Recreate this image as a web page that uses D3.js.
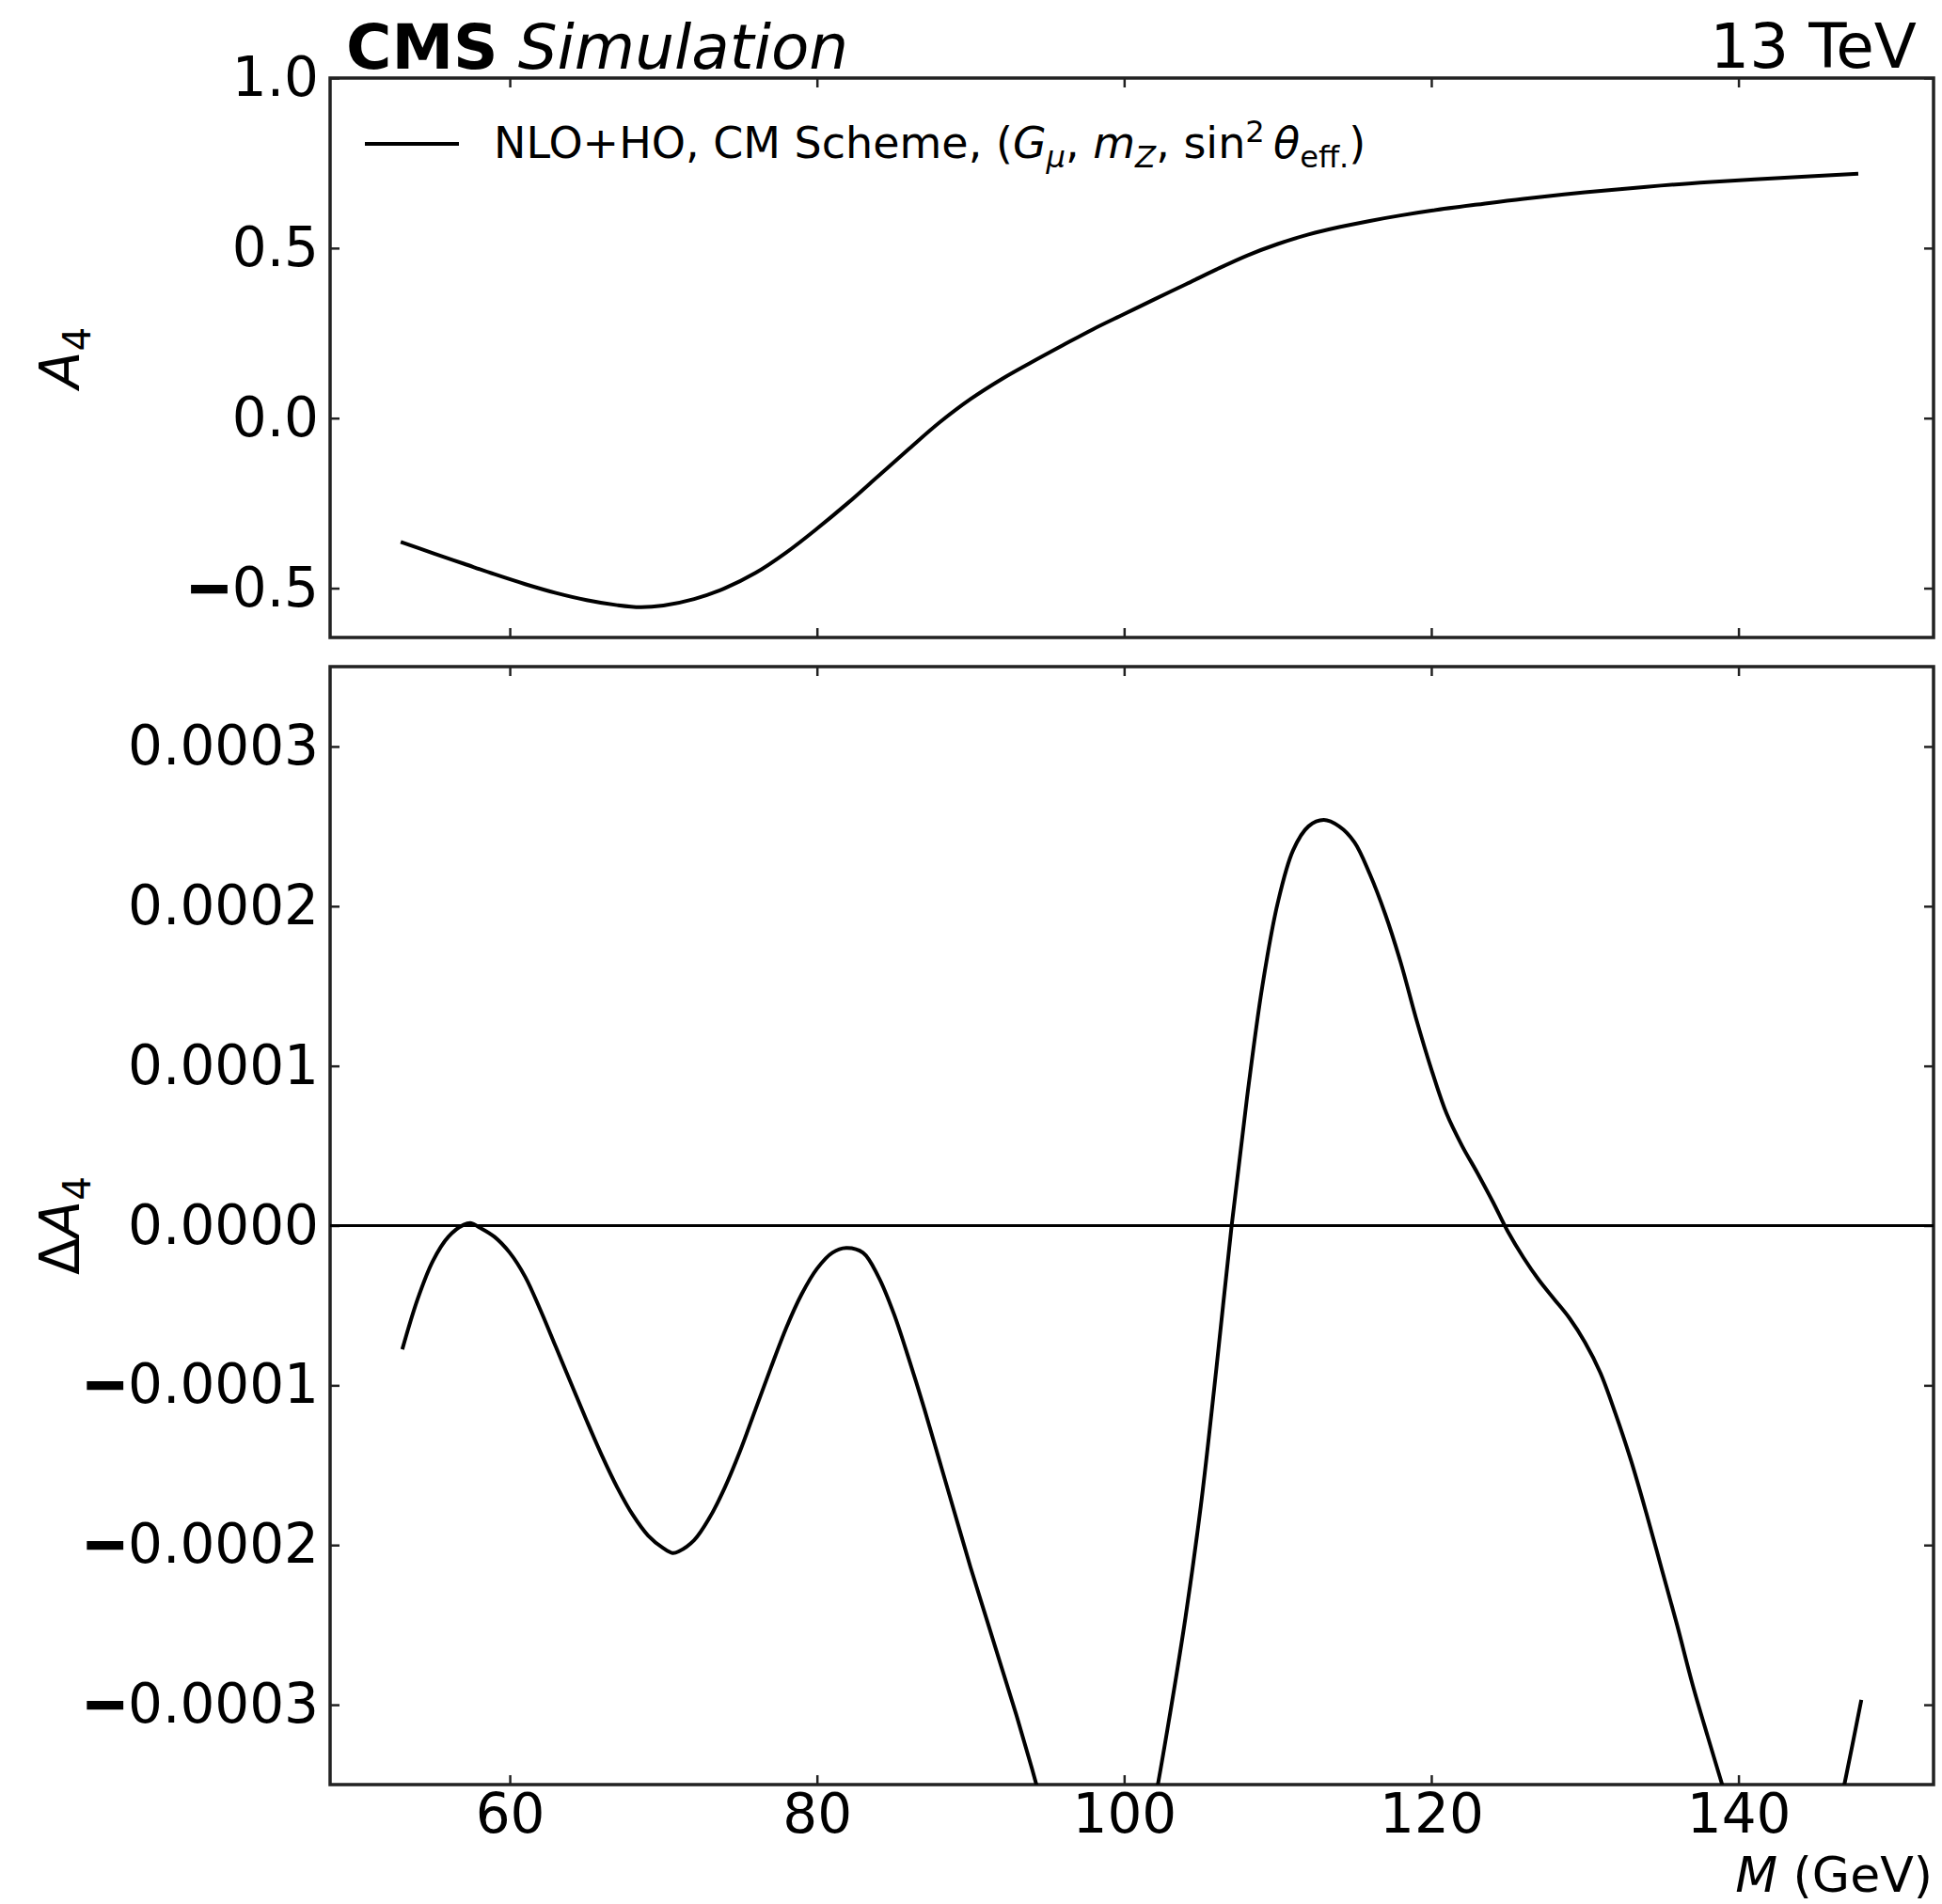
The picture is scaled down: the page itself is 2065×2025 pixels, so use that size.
<!DOCTYPE html>
<html>
<head>
<meta charset="utf-8">
<script src="https://cdn.jsdelivr.net/npm/d3@7"></script>
<style>
  body { margin: 0; background: #fff; }
  text { font-family: "DejaVu Sans", sans-serif; fill: #000; }
  .tick line { stroke: #222; stroke-width: 2.5; }
</style>
</head>
<body>
<div id="chart"></div>
<script>
// values
var massTop = [52.9, 55, 57, 59, 61, 63, 65, 67, 68.5, 70, 72, 74, 76, 78, 80, 82, 84, 86, 88,
  90, 92, 94, 96, 98, 100, 102, 104, 106, 108, 110, 112, 114, 116, 118, 120, 123, 126, 130,
  134, 138, 143, 147.8];
var a4Values = [-0.364, -0.397, -0.428, -0.459, -0.488, -0.514, -0.535, -0.550, -0.556, -0.551,
  -0.532, -0.500, -0.455, -0.395, -0.325, -0.250, -0.170, -0.090, -0.012,
  0.056, 0.114, 0.165, 0.214, 0.262, 0.306, 0.350, 0.393, 0.437, 0.478, 0.512, 0.540, 0.562,
  0.580, 0.596, 0.610, 0.628, 0.645, 0.664, 0.680, 0.694, 0.707, 0.719];

var massBottom = [53, 54, 55, 56, 57, 57.5, 58, 59, 60, 61, 62, 63, 64, 65, 66, 67, 68, 69, 70,
  70.6, 71, 72, 73, 74, 75, 76, 77, 78, 79, 80, 81, 81.9, 83, 84, 85, 86, 87, 88, 89, 90, 91,
  92, 93, 94, 95, 96, 98, 100, 101, 102, 103, 104, 105, 106, 107, 108, 109, 110, 111, 112, 113,
  114, 115, 116, 117, 118, 119, 120, 121, 122, 123, 124, 125, 126, 127, 128, 129, 130, 131, 132,
  133, 134, 135, 136, 137, 138, 139, 140, 141, 142, 143, 144, 145, 146, 147, 148];
var deltaA4 = [-7.75e-5, -4.6e-5, -2.2e-5, -7e-6, 5e-7, 1.5e-6, -1e-6, -7e-6, -1.7e-5, -3.2e-5,
  -5.3e-5, -7.6e-5, -9.9e-5, -1.22e-4, -1.44e-4, -1.64e-4, -1.81e-4, -1.94e-4, -2.02e-4,
  -2.05e-4, -2.04e-4, -1.97e-4, -1.83e-4, -1.64e-4, -1.41e-4, -1.15e-4, -8.9e-5, -6.4e-5,
  -4.3e-5, -2.7e-5, -1.7e-5, -1.4e-5, -1.7e-5, -3.2e-5, -5.5e-5, -8.4e-5, -1.15e-4, -1.48e-4,
  -1.81e-4, -2.14e-4, -2.45e-4, -2.76e-4, -3.07e-4, -3.40e-4, -3.75e-4, -4.1e-4, -4.6e-4,
  -4.5e-4, -4.05e-4, -3.6e-4, -3.05e-4, -2.45e-4, -1.75e-4, -9.0e-5, 0, 8.0e-5, 1.5e-4,
  2.02e-4, 2.35e-4, 2.5e-4, 2.54e-4, 2.5e-4, 2.4e-4, 2.2e-4, 1.95e-4, 1.65e-4, 1.3e-4, 9.8e-5,
  7.0e-5, 5.0e-5, 3.3e-5, 1.5e-5, -4e-6, -2.0e-5, -3.4e-5, -4.6e-5, -5.8e-5, -7.3e-5, -9.2e-5,
  -1.18e-4, -1.47e-4, -1.80e-4, -2.15e-4, -2.50e-4, -2.87e-4, -3.20e-4, -3.52e-4, -3.85e-4,
  -4.15e-4, -4.4e-4, -4.5e-4, -4.45e-4, -4.25e-4, -3.9e-4, -3.45e-4, -2.97e-4];

var xTicks = [60, 80, 100, 120, 140];
var topTicks = [1.0, 0.5, 0.0, -0.5];
var topTickLabels = ["1.0", "0.5", "0.0", "\u22120.5"];
var bottomTicks = [3e-4, 2e-4, 1e-4, 0, -1e-4, -2e-4, -3e-4];
var bottomTickLabels = ["0.0003", "0.0002", "0.0001", "0.0000", "\u22120.0001", "\u22120.0002", "\u22120.0003"];

var W = 2065, H = 2025;
var left = 351, right = 2056;
var top1 = 83, bot1 = 678, top2 = 709, bot2 = 1898;
var fs = 58;

var svg = d3.select("#chart").append("svg")
  .attr("width", W).attr("height", H);
svg.append("rect").attr("width", W).attr("height", H).attr("fill", "#fff");

var x = d3.scaleLinear().domain([48.3, 152.7]).range([left, right]);
var yTop = d3.scaleLinear().domain([-0.645, 1.0]).range([bot1, top1]);
var yBot = d3.scaleLinear().domain([-3.5e-4, 3.5e-4]).range([bot2, top2]);

// clip areas for the two panels
var defs = svg.append("defs");
defs.append("clipPath").attr("id", "clipTop").append("rect")
  .attr("x", left).attr("y", top1).attr("width", right - left).attr("height", bot1 - top1);
defs.append("clipPath").attr("id", "clipBot").append("rect")
  .attr("x", left).attr("y", top2).attr("width", right - left).attr("height", bot2 - top2);

// splits "−0.5" so the minus can be drawn heavier, like the reference
function styleMinus(sel) {
  sel.selectAll(".tick text").each(function() {
    var t = d3.select(this);
    var s = t.text();
    if (s.charAt(0) === "\u2212") {
      t.text("");
      t.append("tspan").attr("font-weight", "bold")
        .attr("stroke", "#000").attr("stroke-width", 2.5).text("\u2212");
      t.append("tspan").text(s.slice(1));
    }
  });
}

function drawPanel(y, yTicks, yLabels, yt, yb, withXLabels) {
  var g = svg.append("g");

  var ax = g.append("g").attr("transform", "translate(" + left + ",0)")
    .call(d3.axisLeft(y).tickValues(yTicks).tickSize(-10).tickPadding(12)
      .tickFormat(function(d, i) { return yLabels[i]; }));
  ax.selectAll("text").attr("font-size", fs).attr("font-family", "DejaVu Sans");
  styleMinus(ax);

  g.append("g").attr("transform", "translate(" + right + ",0)")
    .call(d3.axisRight(y).tickValues(yTicks).tickSize(-10).tickFormat(""));

  g.append("g").attr("transform", "translate(0," + yt + ")")
    .call(d3.axisTop(x).tickValues(xTicks).tickSize(-10).tickFormat(""));

  var bx = g.append("g").attr("transform", "translate(0," + yb + ")")
    .call(d3.axisBottom(x).tickValues(xTicks).tickSize(-10).tickPadding(10)
      .tickFormat(withXLabels ? d3.format("d") : ""));
  bx.selectAll("text").attr("font-size", fs).attr("font-family", "DejaVu Sans");

  g.selectAll(".domain").remove();

  g.append("rect")
    .attr("x", left).attr("y", yt)
    .attr("width", right - left).attr("height", yb - yt)
    .attr("fill", "none").attr("stroke", "#222").attr("stroke-width", 3.5);
  return g;
}

drawPanel(yTop, topTicks, topTickLabels, top1, bot1, false);
drawPanel(yBot, bottomTicks, bottomTickLabels, top2, bot2, true);

var curve = d3.curveCatmullRom.alpha(0.5);

// top panel curve
var lineTop = d3.line()
  .x(function(d, i) { return x(massTop[i]); })
  .y(function(d) { return yTop(d); })
  .curve(curve);
svg.append("path").datum(a4Values)
  .attr("clip-path", "url(#clipTop)")
  .attr("d", lineTop)
  .attr("fill", "none").attr("stroke", "#000").attr("stroke-width", 4);

// bottom panel: zero line and difference curve
svg.append("line")
  .attr("x1", left).attr("x2", right)
  .attr("y1", yBot(0)).attr("y2", yBot(0))
  .attr("stroke", "#000").attr("stroke-width", 3);

var lineBot = d3.line()
  .x(function(d, i) { return x(massBottom[i]); })
  .y(function(d) { return yBot(d); })
  .curve(curve);
svg.append("path").datum(deltaA4)
  .attr("clip-path", "url(#clipBot)")
  .attr("d", lineBot)
  .attr("fill", "none").attr("stroke", "#000").attr("stroke-width", 4);

// rich text helper: parts = [text, {italic, size, dy}]
function rich(t, parts, baseSize) {
  parts.forEach(function(p) {
    var ts = t.append("tspan").text(p.t);
    if (p.i) ts.attr("font-style", "italic");
    if (p.b) ts.attr("font-weight", "bold");
    if (p.s) ts.attr("font-size", p.s * baseSize);
    if (p.dy) ts.attr("dy", p.dy);
  });
}

// title
var title = svg.append("text").attr("x", 368).attr("y", 73).attr("font-size", 66);
rich(title, [{t: "CMS", b: true}, {t: " "}, {t: "Simulation", i: true}], 66);

svg.append("text").attr("x", 2038).attr("y", 72).attr("font-size", 66)
  .attr("text-anchor", "end").text("13 TeV");

// legend
svg.append("line").attr("x1", 388).attr("x2", 488).attr("y1", 153).attr("y2", 153)
  .attr("stroke", "#000").attr("stroke-width", 4);
var leg = svg.append("text").attr("x", 525).attr("y", 168).attr("font-size", 46);
rich(leg, [
  {t: "NLO+HO, CM Scheme, ("},
  {t: "G", i: true},
  {t: "\u03bc", i: true, s: 0.7, dy: 10},
  {t: ", ", dy: -10},
  {t: "m", i: true},
  {t: "Z", i: true, s: 0.7, dy: 10},
  {t: ", sin", dy: -10},
  {t: "2", s: 0.7, dy: -17},
  {t: "\u2009"},
  {t: "\u03b8", i: true, dy: 17},
  {t: "eff.", s: 0.7, dy: 10},
  {t: ")", dy: -10}
], 46);

// axis labels
var yl1 = svg.append("text").attr("font-size", fs).attr("text-anchor", "middle")
  .attr("transform", "translate(84," + ((top1 + bot1) / 2) + ") rotate(-90)");
rich(yl1, [{t: "A", i: true}, {t: "4", s: 0.7, dy: 12}], fs);

var yl2 = svg.append("text").attr("font-size", fs).attr("text-anchor", "middle")
  .attr("transform", "translate(84," + ((top2 + bot2) / 2) + ") rotate(-90)");
rich(yl2, [{t: "\u0394"}, {t: "A", i: true}, {t: "4", s: 0.7, dy: 12}], fs);

var xl = svg.append("text").attr("x", 2055).attr("y", 2012).attr("font-size", 52)
  .attr("text-anchor", "end");
rich(xl, [{t: "M", i: true}, {t: " (GeV)"}], 52);
</script>
</body>
</html>
